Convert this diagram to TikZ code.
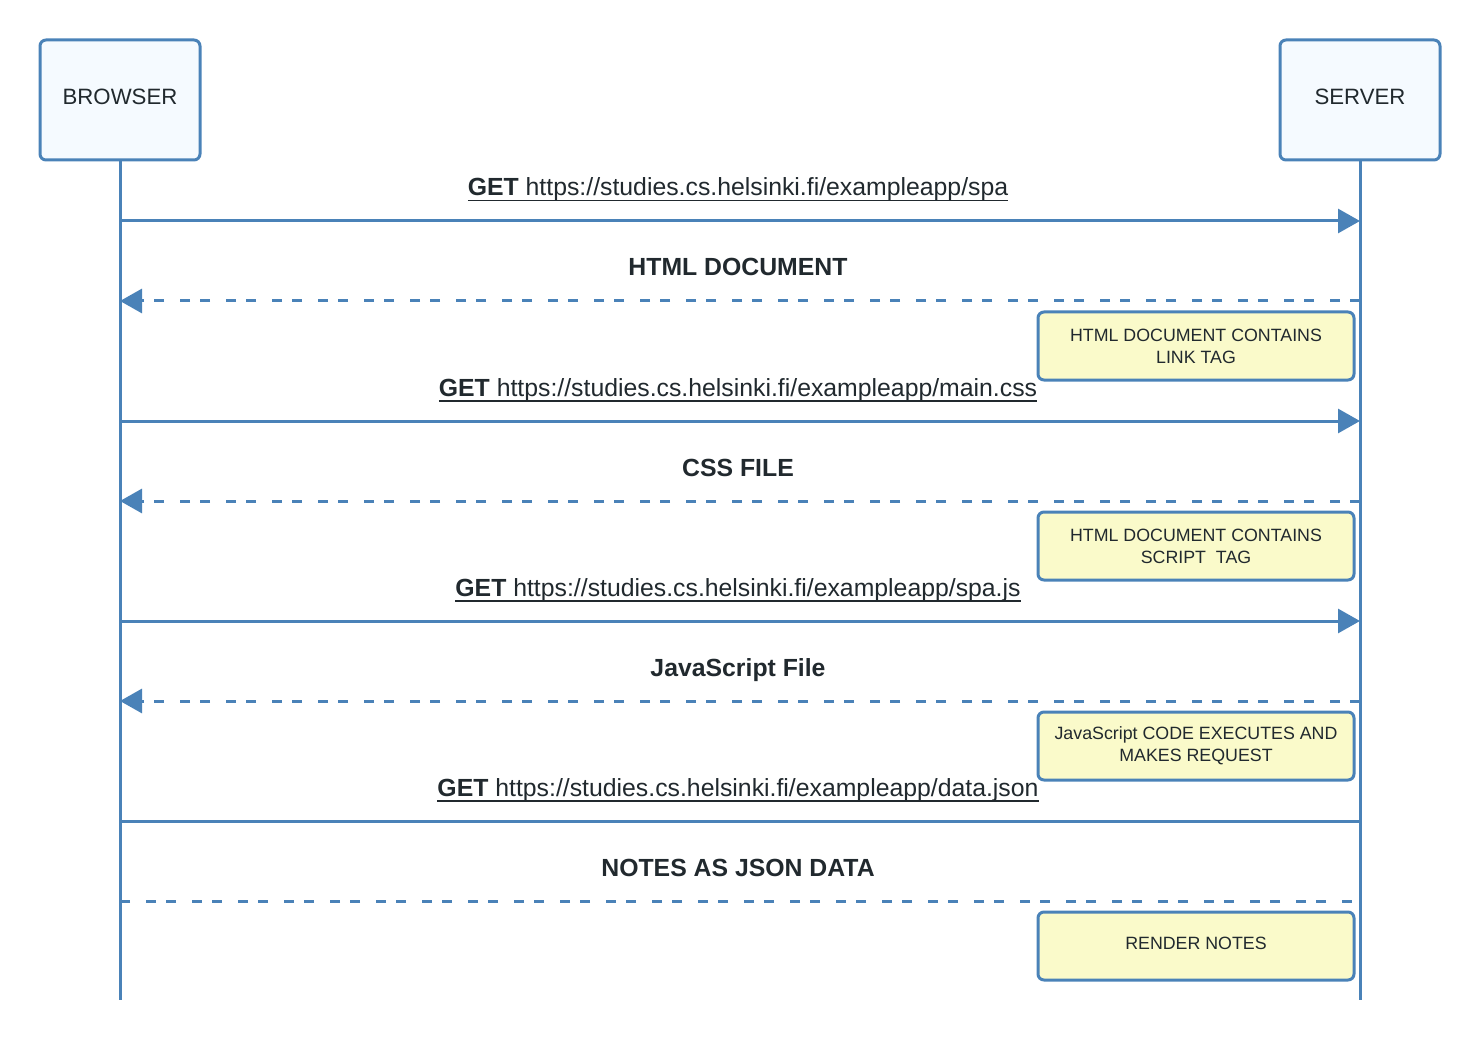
\documentclass[tikz,border=0pt]{standalone}
\usepackage{fontspec}
\setmainfont{Liberation Sans}
\usetikzlibrary{arrows.meta}

\definecolor{lblue}{RGB}{74,130,184}
\definecolor{boxfill}{RGB}{245,250,255}
\definecolor{notefill}{RGB}{250,250,202}
\definecolor{txt}{RGB}{33,41,46}

\newcommand{\ulink}[1]{\setbox0\hbox{#1}\rlap{\rule[-5.5pt]{\wd0}{1.8pt}}\box0}

\begin{document}
\begin{tikzpicture}[
x=1pt,y=-1pt,
>={Triangle[length=22pt,width=24pt]},
actor/.style={draw=lblue,line width=3pt,fill=boxfill,rounded corners=6pt,minimum width=160pt,minimum height=120pt,text depth=6pt,text=txt,font=\fontsize{22.2}{26}\selectfont},
note/.style={draw=lblue,line width=3pt,fill=notefill,rounded corners=6pt,minimum width=316pt,minimum height=68pt,align=center,text=txt,font=\fontsize{17.8}{22}\selectfont},
lbl/.style={anchor=base,text=txt,font=\fontsize{24.8}{28}\selectfont},
life/.style={draw=lblue,line width=3pt},
dsh/.style={life,dash pattern=on 10pt off 10pt on 10pt off 16pt},
call/.style={life,->},
ret/.style={dsh,->}
]
\useasboundingbox (0,0) rectangle (1480,1040);

\node[actor] (b) at (120,100) {BROWSER};
\node[actor] (s) at (1360,100) {SERVER};
\coordinate (bend) at (120,1000);
\coordinate (send) at (1360,1000);
\draw[life] (b) -- (bend);
\draw[life] (s) -- (send);

% message heights on the lifelines
\foreach \i/\y in {1/221,2/301,3/421,4/501,5/621,6/701,7/821,8/901}{
	\coordinate (b\i) at (120,\y);
	\coordinate (s\i) at (1360,\y);
}

\node[lbl] (m1) at (738,196) {\ulink{\textbf{GET} https://studies.cs.helsinki.fi/exampleapp/spa}};
\draw[call] (b1) -- (s1);
\node[lbl] (m2) at (738,276) {\textbf{HTML DOCUMENT}};
\draw[ret] (s2) -- (b2);
	\node[note] (n1) at (1196,346) {HTML DOCUMENT CONTAINS\\LINK TAG};

\node[lbl] (m3) at (738,396) {\ulink{\textbf{GET} https://studies.cs.helsinki.fi/exampleapp/main.css}};
\draw[call] (b3) -- (s3);
\node[lbl] (m4) at (738,476) {\textbf{CSS FILE}};
\draw[ret] (s4) -- (b4);
	\node[note] (n2) at (1196,546) {HTML DOCUMENT CONTAINS\\SCRIPT\ \ TAG};

\node[lbl] (m5) at (738,596) {\ulink{\textbf{GET} https://studies.cs.helsinki.fi/exampleapp/spa.js}};
\draw[call] (b5) -- (s5);
\node[lbl] (m6) at (738,676) {\textbf{JavaScript File}};
\draw[ret] (s6) -- (b6);
	\node[note] (n3) at (1196,746) {JavaScript CODE EXECUTES AND\\MAKES REQUEST};

\node[lbl] (m7) at (738,796) {\ulink{\textbf{GET} https://studies.cs.helsinki.fi/exampleapp/data.json}};
\draw[life] (b7) -- (s7);
\node[lbl] (m8) at (738,876) {\textbf{NOTES AS JSON DATA}};
\draw[dsh,dash phase=12pt] (s8) -- (b8);
	\node[note,text depth=5pt] (n4) at (1196,946) {RENDER NOTES};

\end{tikzpicture}
\end{document}
